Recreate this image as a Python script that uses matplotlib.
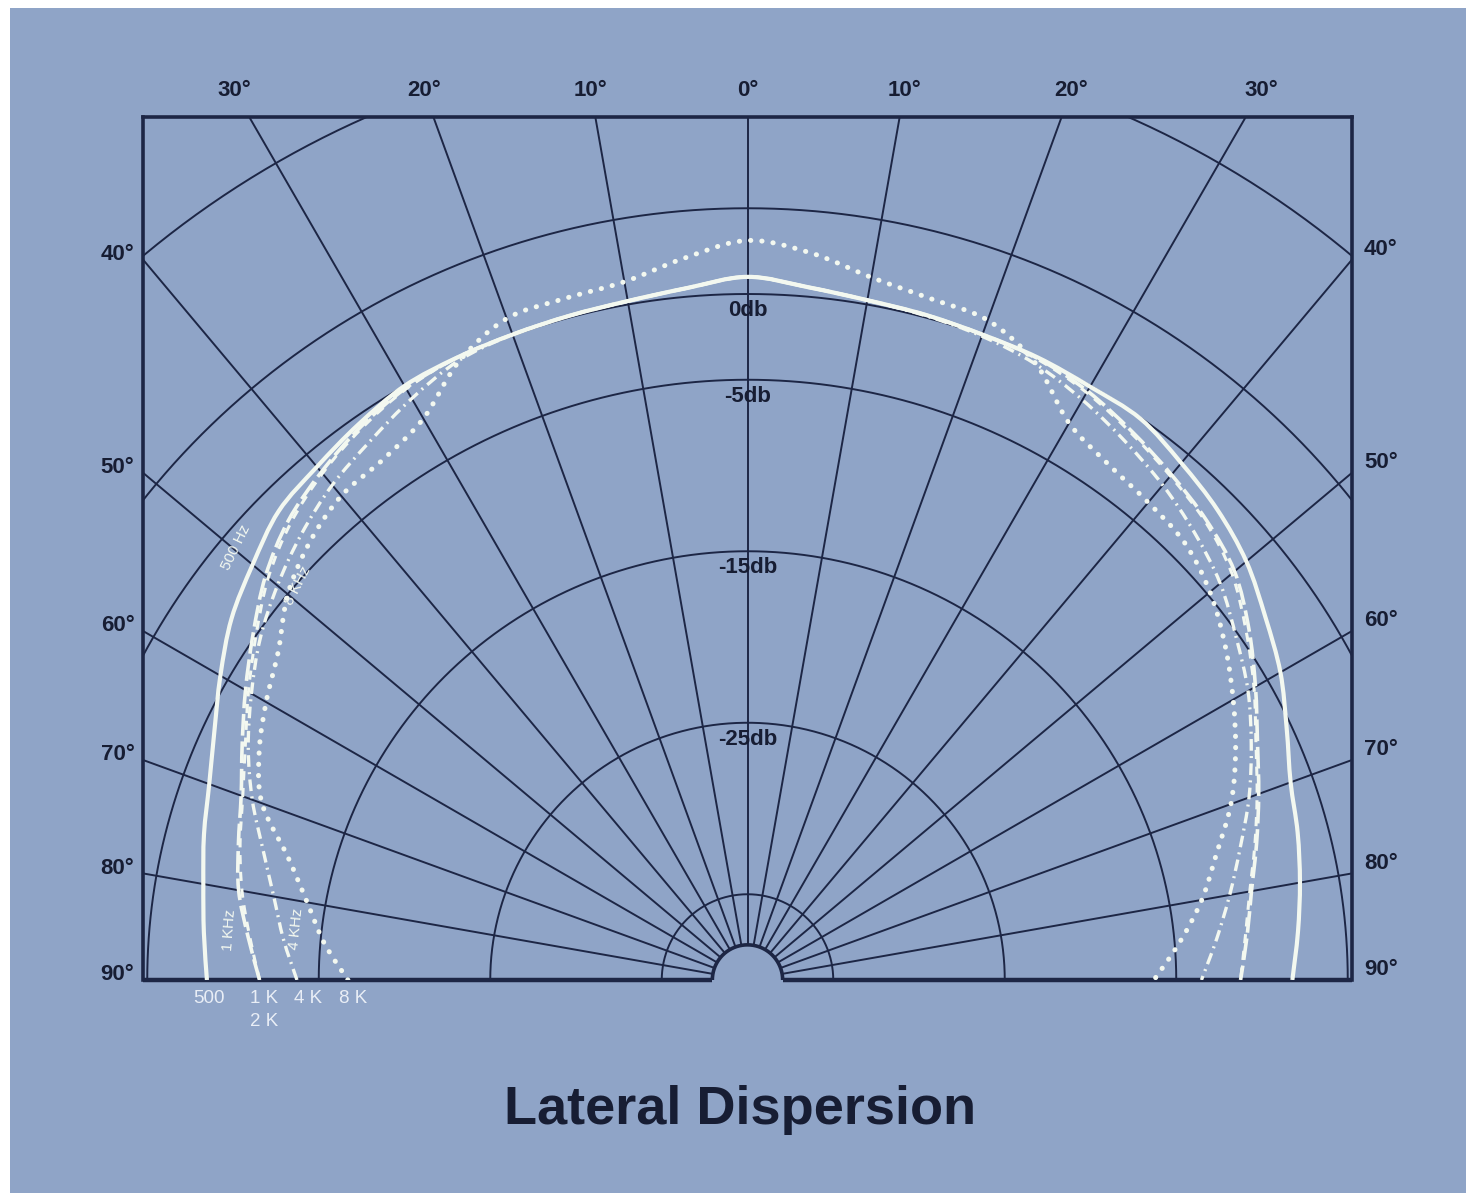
import numpy as np
import matplotlib
matplotlib.use("Agg")
import matplotlib.pyplot as plt
from matplotlib.patches import Rectangle, PathPatch
from matplotlib.path import Path

plt.rcParams['font.family'] = ['Liberation Sans', 'DejaVu Sans']

# ---------------- data (angle from axis in degrees, level in dB) ----------------
angles = list(range(-90, 91, 5))
db_500 = [-8.48, -8.18, -7.78, -7.19, -6.6, -5.7, -4.51, -3.27, -2.33, -1.34, -0.94, -0.45, 0.0,
          0.05, 0.05, 0.1, 0.2, 0.5, 1.0, 0.55, 0.25, 0.15, 0.05, 0.05, -0.05, -0.05, -0.65,
          -1.24, -2.03, -3.13, -4.12, -5.31, -6.3, -6.79, -7.29, -7.78, -8.23]
db_1k = [-11.55, -10.76, -9.87, -9.27, -8.58, -7.49, -6.2, -4.81, -3.32, -2.13, -1.34, -0.65, -0.15,
         0.05, 0.05, 0.1, 0.2, 0.5, 1.0, 0.55, 0.25, 0.15, 0.05, 0.0, -0.35, -0.94, -1.54,
         -2.13, -2.93, -4.31, -5.8, -7.19, -8.28, -9.27, -10.16, -10.76, -11.25]
db_2k = [-11.55, -10.86, -10.07, -9.37, -8.68, -7.69, -6.4, -5.01, -3.52, -2.33, -1.44, -0.75, -0.2,
         0.05, 0.05, 0.1, 0.2, 0.5, 1.0, 0.55, 0.25, 0.15, 0.05, -0.05, -0.45, -1.04, -1.64,
         -2.23, -3.13, -4.51, -5.9, -7.29, -8.38, -9.37, -10.26, -10.86, -11.25]
db_4k = [-13.73, -12.84, -11.95, -10.76, -9.27, -7.88, -6.6, -5.31, -4.22, -3.22, -2.33, -1.64, -0.85,
         -0.15, 0.05, 0.1, 0.2, 0.5, 1.0, 0.55, 0.25, 0.1, -0.05, -0.35, -0.94, -1.64, -2.33,
         -3.13, -4.02, -5.21, -6.3, -7.59, -8.88, -10.26, -11.45, -12.54, -13.53]
db_8k = [-16.7, -15.22, -13.93, -12.25, -9.87, -8.58, -7.59, -6.6, -5.01, -3.9, -3.15, -2.95, -2.2,
         -0.2, 1.04, 1.14, 1.34, 2.25, 3.12, 2.55, 1.6, 1.14, 0.94, -0.3, -2.5, -3.3, -3.65,
         -3.95, -4.8, -6.0, -7.3, -8.6, -10.0, -11.7, -13.1, -14.7, -16.3]

ring_db = [15, 5, 0, -5, -15, -25, -35]
ring_labels = {0: "0db", -5: "-5db", -15: "-15db", -25: "-25db"}
spoke_angles = list(range(-90, 91, 10))
top_tick_angles = [-30, -20, -10, 0, 10, 20, 30]
side_tick_angles = [40, 50, 60, 70, 80, 90]
bottom_legend = [("500", 0, 0), ("1 K", 1, 0), ("2 K", 1, 1), ("4 K", 2, 0), ("8 K", 3, 0)]
title = "Lateral Dispersion"

# ---------------- style ----------------
BG = "#8fa4c7"
GRID = "#1d2645"
CURVE = "#f3f8f0"
TXT = "#171d33"
REF = 40.0          # r = dB + REF
R0 = 2.05           # small inner semicircle
PX_PER_DB = 17.15

W, H = 1470, 1193
fig = plt.figure(figsize=(W / 100, H / 100), dpi=100, facecolor="white")
fig.patches.append(Rectangle((10 / W, 0), (W - 14) / W, (H - 8) / H,
                             transform=fig.transFigure, facecolor=BG, edgecolor="none", zorder=-10))

fl, fr, ft, fb = 143, 1352, 117, 980
ax = fig.add_axes([fl / W, (H - fb) / H, (fr - fl) / W, (fb - ft) / H])
ax.set_facecolor("none")
xh = (fr - fl) / 2 / PX_PER_DB
ytop = (fb - ft) / PX_PER_DB
ax.set_xlim(-xh, xh)
ax.set_ylim(0, ytop)
ax.set_xticks([])
ax.set_yticks([])
for s in ax.spines.values():
    s.set_color(GRID)
    s.set_linewidth(2.6)
ax.spines['bottom'].set_visible(False)


def to_xy(theta_deg, db):
    r = np.asarray(db, dtype=float) + REF
    t = np.radians(np.asarray(theta_deg, dtype=float))
    return r * np.sin(t), r * np.cos(t)


def smooth_path(x, y):
    """Catmull-Rom curve through the points, as cubic Bezier segments."""
    P = np.column_stack([x, y])
    Pe = np.vstack([P[0], P, P[-1]])
    verts = [P[0]]
    codes = [Path.MOVETO]
    for i in range(1, len(Pe) - 2):
        p0, p1, p2, p3 = Pe[i - 1], Pe[i], Pe[i + 1], Pe[i + 2]
        verts += [p1 + (p2 - p0) / 6.0, p2 - (p3 - p1) / 6.0, p2]
        codes += [Path.CURVE4] * 3
    return Path(verts, codes)


# grid circles
tt = np.linspace(-90, 90, 721)
for d in ring_db:
    x, y = to_xy(tt, np.full_like(tt, d))
    ax.plot(x, y, color=GRID, lw=1.4, zorder=2)
# inner semicircle
x0 = R0 * np.sin(np.radians(tt))
y0 = R0 * np.cos(np.radians(tt))
ax.plot(x0, y0, color=GRID, lw=2.6, zorder=3)
# spokes
for a in spoke_angles:
    t = np.radians(a)
    ax.plot([R0 * np.sin(t), 80 * np.sin(t)], [R0 * np.cos(t), 80 * np.cos(t)],
            color=GRID, lw=1.4, zorder=2)
# bottom frame line (split by semicircle)
ax.plot([-xh, -R0], [0, 0], color=GRID, lw=3.2, zorder=3, clip_on=False, solid_capstyle="butt")
ax.plot([R0, xh], [0, 0], color=GRID, lw=3.2, zorder=3, clip_on=False, solid_capstyle="butt")

# dB labels
for d, lab in ring_labels.items():
    ax.text(0, d + REF - 0.95, lab, ha="center", va="center", fontsize=16,
            fontweight="bold", color=TXT, zorder=6)

# curves
curve_specs = [
    (db_500, dict(ls="-", lw=3.0)),
    (db_1k, dict(ls=(0, (6, 1.6)), lw=2.6)),
    (db_2k, dict(ls=(0, (3, 2.5)), lw=2.2)),
    (db_4k, dict(ls=(0, (3.5, 1.6, 0.6, 1.6)), lw=2.4)),
    (db_8k, dict(ls=(0, (0.05, 2.2)), lw=3.6, capstyle="round")),
]
for vals, st in curve_specs:
    x, y = to_xy(angles, vals)
    patch = PathPatch(smooth_path(x, y), fill=False, edgecolor=CURVE, zorder=5,
                      joinstyle="round", **st)
    ax.add_patch(patch)

# curve annotations (rotated, along curves)
ann = [("500 Hz", -29.8, 25.2, 64), ("8 KHz", -26.2, 23.0, 63),
       ("1 KHz", -30.2, 2.9, 86), ("4 KHz", -26.3, 3.0, 84)]
for s, x, y, rot in ann:
    ax.text(x, y, s, rotation=rot, ha="center", va="center", fontsize=11,
            color=CURVE, zorder=6, rotation_mode="anchor")

# angle labels on top
for a in top_tick_angles:
    yy = ytop + 1.55
    ax.text(yy * np.tan(np.radians(a)), yy, f"{abs(a)}°", ha="center", va="center",
            fontsize=16, fontweight="bold", color=TXT, clip_on=False)
# angle labels on sides
for a in side_tick_angles:
    yy = xh / np.tan(np.radians(a)) if a != 90 else 0.0
    ax.text(-xh - 0.5, yy + 0.3, f"{a}°", ha="right", va="center", fontsize=16,
            fontweight="bold", color=TXT, clip_on=False)
    ax.text(xh + 0.7, yy + 0.6, f"{a}°", ha="left", va="center", fontsize=16,
            fontweight="bold", color=TXT, clip_on=False)

# legend of frequencies under the frame
leg_x = [-31.4, -28.2, -25.6, -23.0]
for s, col, row in bottom_legend:
    ax.text(leg_x[col], -1.1 - 1.3 * row, s, ha="center", va="center", fontsize=13.5,
            color="#e9eef6", clip_on=False)

fig.text(740 / W, 1 - 1110 / H, title, ha="center", va="center", fontsize=39,
         fontweight="bold", color=TXT)

fig.savefig("out.png", dpi=100, facecolor="white")
